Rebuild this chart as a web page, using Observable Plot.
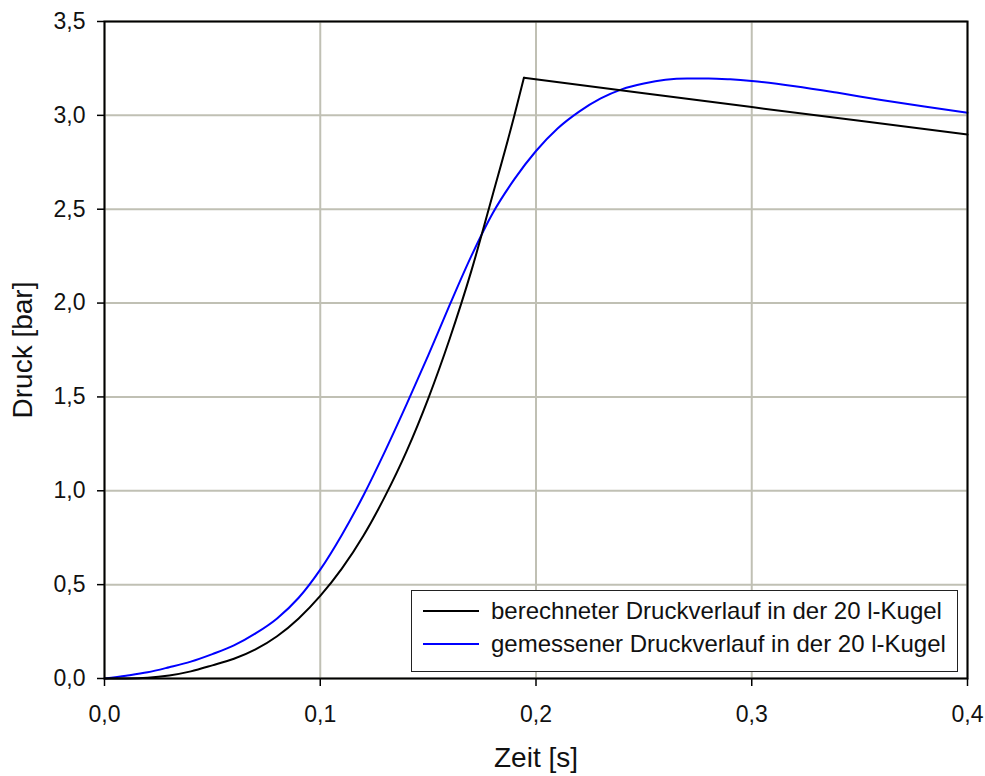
<!DOCTYPE html>
<html>
<head>
<meta charset="utf-8">
<script src="https://cdn.jsdelivr.net/npm/d3@7"></script>
<script src="https://cdn.jsdelivr.net/npm/@observablehq/plot@0.6"></script>
<style>
  html, body { margin: 0; padding: 0; background: white; }
  #wrap { position: relative; width: 985px; height: 776px; font-family: "Liberation Sans", Arial, sans-serif; }
  #wrap svg { display: block; }
  g[aria-label="x-axis label"] text, g[aria-label="y-axis label"] text { font-size: 28px; }
  #legend { position: absolute; left: 411px; top: 590px; width: 545px; height: 80px; border: 1.5px solid #222; background: white; box-sizing: content-box; }
  .row { position: absolute; left: 0; height: 30px; display: flex; align-items: center; font-size: 24px; color: #111; white-space: nowrap; }
  .swatch { display: inline-block; width: 56px; height: 0; border-top: 2px solid; margin-left: 11px; margin-right: 12px; }
</style>
</head>
<body>
<div id="wrap"></div>
<script>
// Time axis (s) and pressure (bar)
const xTicks = [0, 0.1, 0.2, 0.3, 0.4];
const yTicks = [0, 0.5, 1.0, 1.5, 2.0, 2.5, 3.0, 3.5];

const seriesNames = ["berechneter Druckverlauf in der 20 l-Kugel", "gemessener Druckverlauf in der 20 l-Kugel"];
const seriesColors = ["#000000", "#0000ff"];

// berechneter Druckverlauf (black)
const calcT = [0, 0.01, 0.02, 0.03, 0.04, 0.05, 0.06, 0.07, 0.08, 0.09, 0.10, 0.11, 0.12, 0.13, 0.14, 0.15, 0.16, 0.17, 0.18, 0.19, 0.1944, 0.25, 0.30, 0.35, 0.40];
const calcP = [0, 0.0005, 0.004, 0.016, 0.038, 0.07, 0.105, 0.155, 0.225, 0.32, 0.44, 0.585, 0.76, 0.97, 1.21, 1.49, 1.81, 2.17, 2.58, 3.00, 3.20, 3.118, 3.044, 2.971, 2.898];
const calcPeakT = 0.1944;

// gemessener Druckverlauf (blue)
const measT = [0, 0.01, 0.02, 0.03, 0.04, 0.05, 0.06, 0.07, 0.08, 0.09, 0.10, 0.11, 0.12, 0.13, 0.14, 0.15, 0.16, 0.17, 0.18, 0.19, 0.20, 0.21, 0.22, 0.23, 0.24, 0.25, 0.26, 0.27, 0.28, 0.29, 0.30, 0.32, 0.34, 0.36, 0.38, 0.40];
const measP = [0, 0.015, 0.033, 0.06, 0.09, 0.13, 0.176, 0.24, 0.32, 0.43, 0.58, 0.765, 0.975, 1.21, 1.46, 1.72, 1.99, 2.25, 2.48, 2.66, 2.81, 2.93, 3.02, 3.09, 3.14, 3.17, 3.19, 3.197, 3.197, 3.192, 3.183, 3.155, 3.12, 3.082, 3.047, 3.014];

const calc = calcT.map((t, i) => ({t, p: calcP[i]}));
const meas = measT.map((t, i) => ({t, p: measP[i]}));
const fmt = d => d.toFixed(1).replace(".", ",");
const gridColor = "#c0c0b4";

const chart = Plot.plot({
  width: 985,
  height: 776,
  marginLeft: 104,
  marginRight: 18,
  marginTop: 21,
  marginBottom: 98,
  x: {domain: [0, 0.4]},
  y: {domain: [0, 3.5]},
  style: {fontFamily: "'Liberation Sans', Arial, sans-serif", background: "white", color: "#111"},
  marks: [
    Plot.gridX(xTicks, {stroke: gridColor, strokeOpacity: 1, strokeWidth: 2}),
    Plot.gridY(yTicks, {stroke: gridColor, strokeOpacity: 1, strokeWidth: 2}),
    Plot.line(meas, {x: "t", y: "p", stroke: seriesColors[1], strokeWidth: 2, curve: "monotone-x"}),
    Plot.line(calc.filter(d => d.t <= calcPeakT), {x: "t", y: "p", stroke: seriesColors[0], strokeWidth: 2, curve: "monotone-x"}),
    Plot.line(calc.filter(d => d.t >= calcPeakT), {x: "t", y: "p", stroke: seriesColors[0], strokeWidth: 2}),
    Plot.frame({stroke: "black", strokeWidth: 2}),
    Plot.axisX(xTicks, {tickSize: 8, tickPadding: 19, tickFormat: fmt, fontSize: 23, stroke: "black", strokeWidth: 1.5,
      label: "Zeit [s]", labelAnchor: "center", labelArrow: "none", labelOffset: 88}),
    Plot.axisY(yTicks, {tickSize: 7, tickPadding: 12, tickFormat: fmt, fontSize: 23, stroke: "black", strokeWidth: 1.5,
      label: "Druck [bar]", labelAnchor: "center", labelArrow: "none", labelOffset: 92})
  ]
});

const wrap = document.getElementById("wrap");
wrap.appendChild(chart);

const legend = document.createElement("div");
legend.id = "legend";
seriesNames.forEach((name, i) => {
  const row = document.createElement("div");
  row.className = "row";
  row.style.top = (5 + i * 33) + "px";
  const sw = document.createElement("span");
  sw.className = "swatch";
  sw.style.borderTopColor = seriesColors[i];
  row.appendChild(sw);
  const tx = document.createElement("span");
  tx.textContent = name;
  row.appendChild(tx);
  legend.appendChild(row);
});
wrap.appendChild(legend);
</script>
</body>
</html>
